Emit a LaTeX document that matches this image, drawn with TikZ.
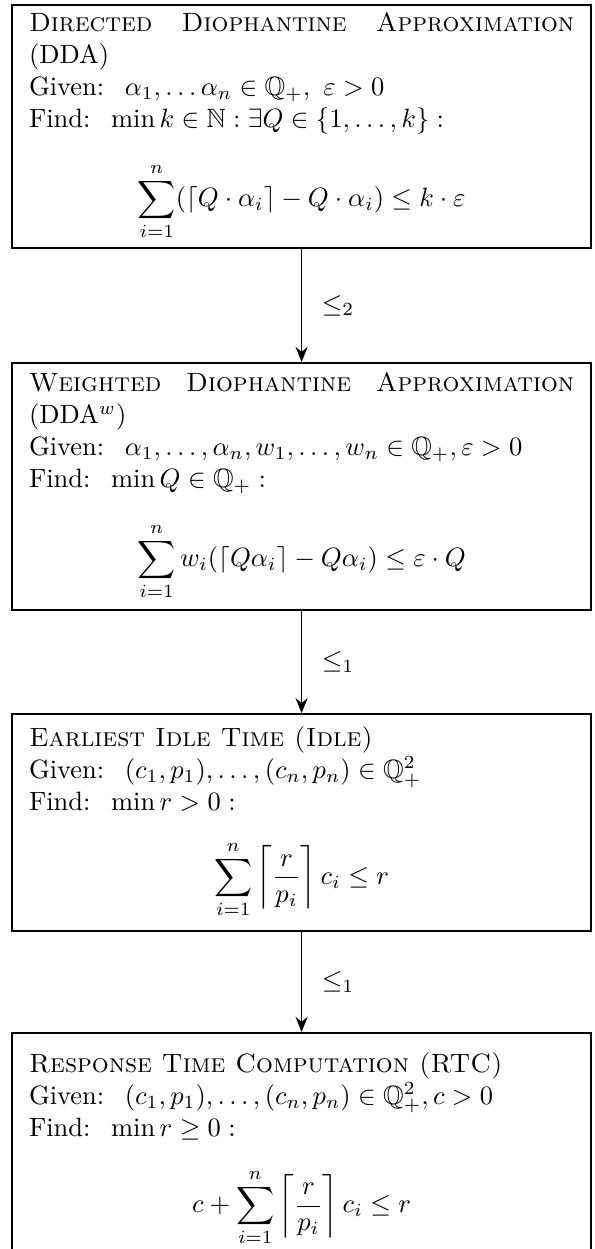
\documentclass[tikz,border=0pt]{standalone}
\usepackage{amsmath,amssymb}
\usepackage{fontspec}
\usetikzlibrary{arrows.meta,positioning}
\tikzset{
  >={Stealth[length=2mm,width=1.6mm]},
  probbox/.style={draw, thick, rectangle, anchor=north, align=justify,
                  text width=205.7pt, inner xsep=6.4pt, inner ysep=2pt,
                  font=\normalsize},
  red/.style={->, semithick},
  redlbl/.style={right=4pt, font=\normalsize},
}
\begin{document}
\begin{tikzpicture}
    \useasboundingbox (0,0) rectangle (224.5pt,-471.3pt);
    % problems
    \node[probbox, minimum height=91.7pt] (DDA) at (113.8pt,-1.5pt) {%
      \textsc{Directed Diophantine Approximation}\linebreak (DDA)\\
      Given: \ $\alpha_1,\dots\alpha_n\in\mathbb{Q}_+,\ \varepsilon>0$\\
      Find: \ $\min k\in\mathbb{N}:\exists Q\in\{1,\dots,k\}:$
      \[\sum_{i=1}^{n}(\lceil Q\cdot\alpha_i\rceil-Q\cdot\alpha_i)\le k\cdot\varepsilon\]};
    \node[probbox, minimum height=93.2pt] (DDAw) at (113.8pt,-136.6pt) {%
      \textsc{Weighted Diophantine Approximation}\linebreak (DDA$^w$)\\
      Given: \ $\alpha_1,\dots,\alpha_n,w_1,\dots,w_n\in\mathbb{Q}_+,\varepsilon>0$\\
      Find: \ $\min Q\in\mathbb{Q}_+:$
      \[\sum_{i=1}^{n}w_i(\lceil Q\alpha_i\rceil-Q\alpha_i)\le\varepsilon\cdot Q\]};
    \node[probbox, minimum height=81.8pt] (IDLE) at (113.8pt,-269.1pt) {%
      \textsc{Earliest Idle Time (Idle)}\\
      Given: \ $(c_1,p_1),\dots,(c_n,p_n)\in\mathbb{Q}_+^2$\\
      Find: \ $\min r>0:$
      \[\sum_{i=1}^{n}\left\lceil\frac{r}{p_i}\right\rceil c_i\le r\]};
    \node[probbox, minimum height=88pt] (RTC) at (113.8pt,-389.4pt) {%
      \textsc{Response Time Computation (RTC)}\\
      Given: \ $(c_1,p_1),\dots,(c_n,p_n)\in\mathbb{Q}_+^2,c>0$\\
      Find: \ $\min r\ge0:$
      \[c+\sum_{i=1}^{n}\left\lceil\frac{r}{p_i}\right\rceil c_i\le r\]};
    % reductions
    \draw[red] (DDA) -- node[redlbl] {$\le_2$} (DDAw);
    \draw[red] (DDAw) -- node[redlbl] {$\le_1$} (IDLE);
    \draw[red] (IDLE) -- node[redlbl] {$\le_1$} (RTC);
\end{tikzpicture}
\end{document}
